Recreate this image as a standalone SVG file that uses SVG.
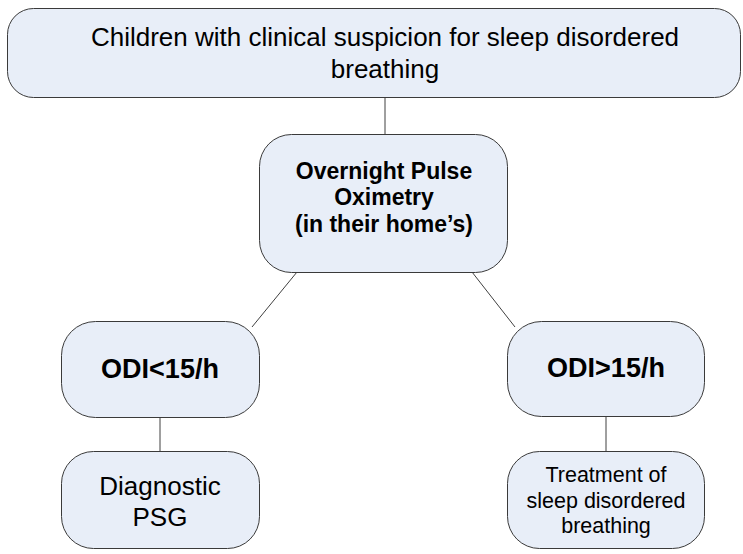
<svg xmlns="http://www.w3.org/2000/svg" width="743" height="554" viewBox="0 0 743 554">
<style>
.box{fill:#E8EEF8;stroke:#3a3a3a;stroke-width:1}
.t{font-family:"Liberation Sans",Arial,sans-serif;fill:#000;text-anchor:middle}
.b{font-weight:bold}
.c{stroke:#404040;stroke-width:1;fill:none}
</style>
<rect width="743" height="554" fill="#fff"/>
<g id="connectors">
<line class="c" x1="385" y1="97" x2="385" y2="134"/>
<line class="c" x1="297" y1="272" x2="252" y2="327"/>
<line class="c" x1="472" y1="272" x2="515" y2="327"/>
<line class="c" x1="160" y1="417" x2="160" y2="451"/>
<line class="c" x1="606" y1="416" x2="606" y2="451"/>
</g>
<g id="top">
<rect class="box" x="7.5" y="8.5" width="733" height="89" rx="26"/>
<text class="t" x="385" y="46" font-size="26">Children with clinical suspicion for sleep disordered</text>
<text class="t" x="385" y="78" font-size="26">breathing</text>
</g>
<g id="oximetry">
<rect class="box" x="259.5" y="134.5" width="248" height="138" rx="32"/>
<text class="t b" x="384" y="179" font-size="23">Overnight Pulse</text>
<text class="t b" x="384" y="205" font-size="23">Oximetry</text>
<text class="t b" x="384" y="232" font-size="23">(in their home’s)</text>
</g>
<g id="odi-low">
<rect class="box" x="61.5" y="321.5" width="198" height="96" rx="34"/>
<text class="t b" x="160" y="378" font-size="27">ODI&lt;15/h</text>
</g>
<g id="odi-high">
<rect class="box" x="507.5" y="321.5" width="197" height="95" rx="34"/>
<text class="t b" x="606" y="377" font-size="27">ODI&gt;15/h</text>
</g>
<g id="psg">
<rect class="box" x="61.5" y="451.5" width="198" height="97" rx="32"/>
<text class="t" x="160" y="495" font-size="26">Diagnostic</text>
<text class="t" x="160" y="526" font-size="26">PSG</text>
</g>
<g id="treatment">
<rect class="box" x="507.5" y="451.5" width="197" height="97" rx="32"/>
<text class="t" x="606" y="482" font-size="21.5">Treatment of</text>
<text class="t" x="606" y="508" font-size="21.5">sleep disordered</text>
<text class="t" x="606" y="533" font-size="21.5">breathing</text>
</g>
</svg>
